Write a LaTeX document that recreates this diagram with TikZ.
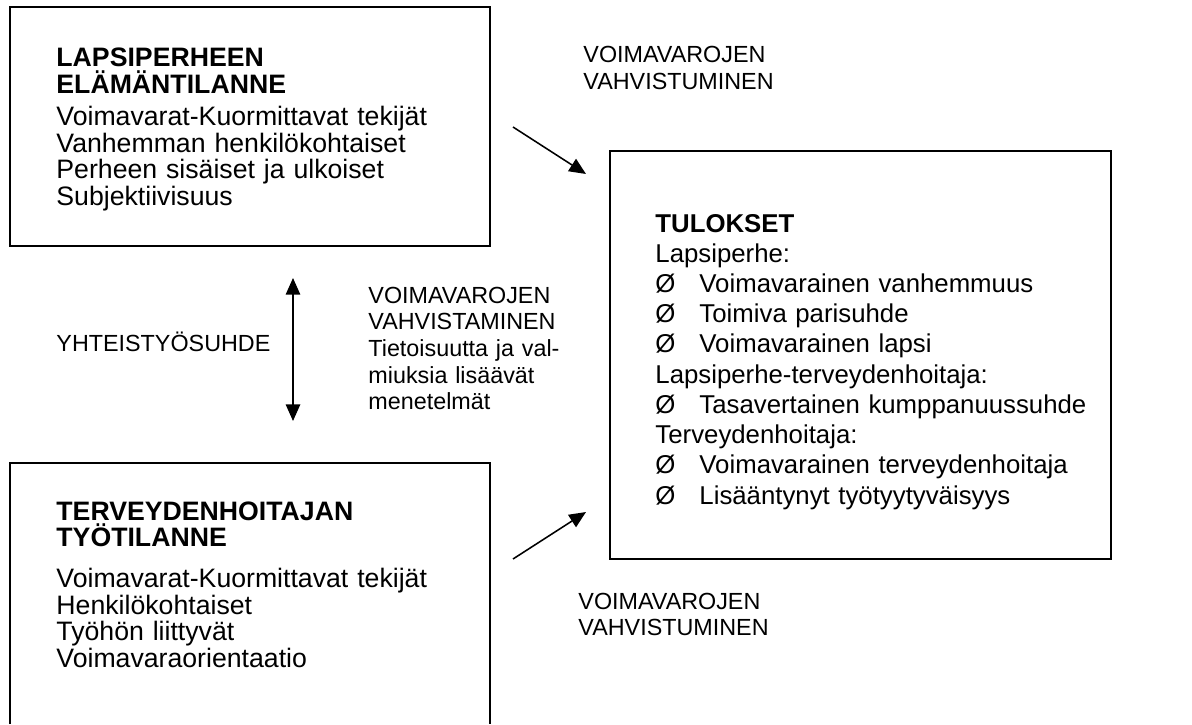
\documentclass[tikz,border=0pt]{standalone}
\usepackage{fontspec}
\setmainfont{Liberation Sans}
\usetikzlibrary{arrows.meta}
\begin{document}
\begin{tikzpicture}[x=0.45pt,y=-0.45pt,
  teksti/.style={anchor=base west,inner sep=0pt,align=left,text width=#1},
  teksti/.default=7cm,
  iso/.style={font=\fontsize{12}{12}\selectfont},
  pieni/.style={font=\fontsize{10.5}{12}\selectfont},
  reuna/.style={line width=0.7pt},
  nuoli/.style={line width=0.7pt,-{Triangle[length=7.5pt,width=6.5pt]}},
  kaksinuoli/.style={line width=0.7pt,{Triangle[length=7.5pt,width=6.5pt]}-{Triangle[length=7.5pt,width=6.5pt]}}]
  \useasboundingbox (0,0) rectangle (1192,724);
  % laatikot
  \draw[reuna] (10,7) rectangle (490,246);
  \draw[reuna] (10,724) -- (10,463) -- (490,463) -- (490,724);
  \draw[reuna] (610,151) rectangle (1111,559);
  % lapsiperhe
  \node[teksti,iso] (perhe) at (56,66.5) {\textbf{LAPSIPERHEEN}\\
    \textbf{ELÄMÄNTILANNE}\\[2.6pt]
    Voimavarat-Kuormittavat tekijät\\
    Vanhemman henkilökohtaiset\\
    Perheen sisäiset ja ulkoiset\\
    Subjektiivisuus};
  % terveydenhoitaja
  \node[teksti,iso] (hoitaja) at (56,520) {\textbf{TERVEYDENHOITAJAN}\\
    \textbf{TYÖTILANNE}\\[6.4pt]
    Voimavarat-Kuormittavat tekijät\\
    Henkilökohtaiset\\
    Työhön liittyvät\\
    Voimavaraorientaatio};
  % tulokset
  \node[teksti=8cm,font=\fontsize{11.6}{13.6}\selectfont] (tulokset) at (655,232) {\textbf{TULOKSET}\\
    Lapsiperhe:\\
    \makebox[19.8pt][l]{Ø}Voimavarainen vanhemmuus\\
    \makebox[19.8pt][l]{Ø}Toimiva parisuhde\\
    \makebox[19.8pt][l]{Ø}Voimavarainen lapsi\\
    Lapsiperhe-terveydenhoitaja:\\
    \makebox[19.8pt][l]{Ø}Tasavertainen kumppanuussuhde\\
    Terveydenhoitaja:\\
    \makebox[19.8pt][l]{Ø}Voimavarainen terveydenhoitaja\\
    \makebox[19.8pt][l]{Ø}Lisääntynyt työtyytyväisyys};
  % tekstit nuolten vieressä
  \node[teksti=4cm,pieni] (vahv1) at (583,63) {VOIMAVAROJEN\\VAHVISTUMINEN};
  \node[teksti=4cm,pieni] (vahv2) at (578,609) {VOIMAVAROJEN\\VAHVISTUMINEN};
  \node[teksti=4cm,pieni] (yhteistyo) at (56,351) {YHTEISTYÖSUHDE};
  \node[teksti=4cm,pieni] (menetelmat) at (368,303) {VOIMAVAROJEN\\
    VAHVISTAMINEN\\
    Tietoisuutta ja val-\\
    miuksia lisäävät\\
    menetelmät};
  % nuolet
  \coordinate (n1a) at (513,127);
  \coordinate (n1b) at (586,174);
  \coordinate (n2a) at (513,559);
  \coordinate (n2b) at (586,512);
  \coordinate (n3a) at (293,278);
  \coordinate (n3b) at (293,421);
  \draw[nuoli] (n1a) -- (n1b);
  \draw[nuoli] (n2a) -- (n2b);
  \draw[kaksinuoli] (n3a) -- (n3b);
\end{tikzpicture}
\end{document}
